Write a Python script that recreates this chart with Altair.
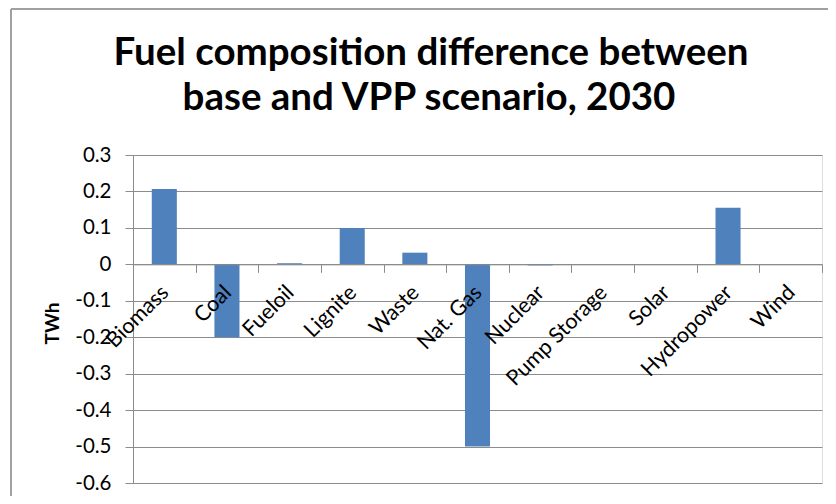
import altair as alt
import pandas as pd

fuels = ["Biomass", "Coal", "Fueloil", "Lignite", "Waste", "Nat. Gas", "Nuclear",
         "Pump Storage", "Solar", "Hydropower", "Wind"]
diff_twh = [0.207, -0.2, 0.003, 0.1, 0.032, -0.5, -0.003, 0.0, 0.0, 0.155, 0.0]
y_ticks = [-0.6, -0.5, -0.4, -0.3, -0.2, -0.1, 0.0, 0.1, 0.2, 0.3]
title_lines = ["Fuel composition difference between", "base and VPP scenario, 2030"]

df = pd.DataFrame({"fuel": fuels, "value": diff_twh})

FONT = "Lato"
GRAY = "#8c8c8c"
W, H = 689, 328
zero_px = H * 0.3 / 0.9

bars = alt.Chart(df).mark_bar(color="#4F81BD", width=alt.RelativeBandSize(0.4)).encode(
    x=alt.X("fuel:N", sort=fuels,
            scale=alt.Scale(paddingInner=0, paddingOuter=0),
            axis=alt.Axis(title=None, orient="bottom", offset=-(H - zero_px),
                          labelAngle=-45, labelFontSize=21.5, labelFont=FONT,
                          labelColor="#000000", labelPadding=9, labelOffset=-7,
                          labelAlign="right", labelBaseline="top",
                          tickBand="extent", tickSize=8, tickColor=GRAY,
                          domainColor=GRAY, grid=False, zindex=1)),
    y=alt.Y("value:Q",
            scale=alt.Scale(domain=[-0.6, 0.3], nice=False, zero=False),
            axis=alt.Axis(title="TWh", values=y_ticks, format=".1~f",
                          labelExpr="replace(datum.label, '\u2212', '-')",
                          labelFontSize=20.5, labelFont=FONT, labelColor="#000000",
                          labelPadding=14, tickSize=8, tickColor=GRAY,
                          domainColor=GRAY, gridColor=GRAY, gridOpacity=1,
                          titleFont=FONT, titleFontSize=19, titleFontWeight="bold",
                          titleColor="#000000", titleX=-81, titleY=H / 2 + 4,
                          titleAlign="center", titleBaseline="middle")),
)

single = alt.Chart(pd.DataFrame({"k": [0]}))
frame_left = single.mark_rule(color="#a0a0a0", strokeWidth=2).encode(
    x=alt.value(-122), y=alt.value(-146), y2=alt.value(H + 20))
frame_top = single.mark_rule(color="#a0a0a0", strokeWidth=2).encode(
    x=alt.value(-122), x2=alt.value(W + 10), y=alt.value(-146))

title_style = dict(font=FONT, fontSize=38.5, fontWeight="bold", color="#000000",
                   align="center", baseline="alphabetic")
title1 = single.mark_text(text=title_lines[0], **title_style).encode(
    x=alt.value(298), y=alt.value(-90))
title2 = single.mark_text(text=title_lines[1], **title_style).encode(
    x=alt.value(296), y=alt.value(-45))

chart = alt.layer(bars, frame_left, frame_top, title1, title2).properties(
    width=W, height=H,
    autosize=alt.AutoSizeParams(type="none"),
    padding={"left": 125, "top": 147, "right": 6, "bottom": 13},
).configure_view(stroke=None).configure(background="white")

chart.save("out.html", embed_options={"renderer": "svg", "actions": False})
